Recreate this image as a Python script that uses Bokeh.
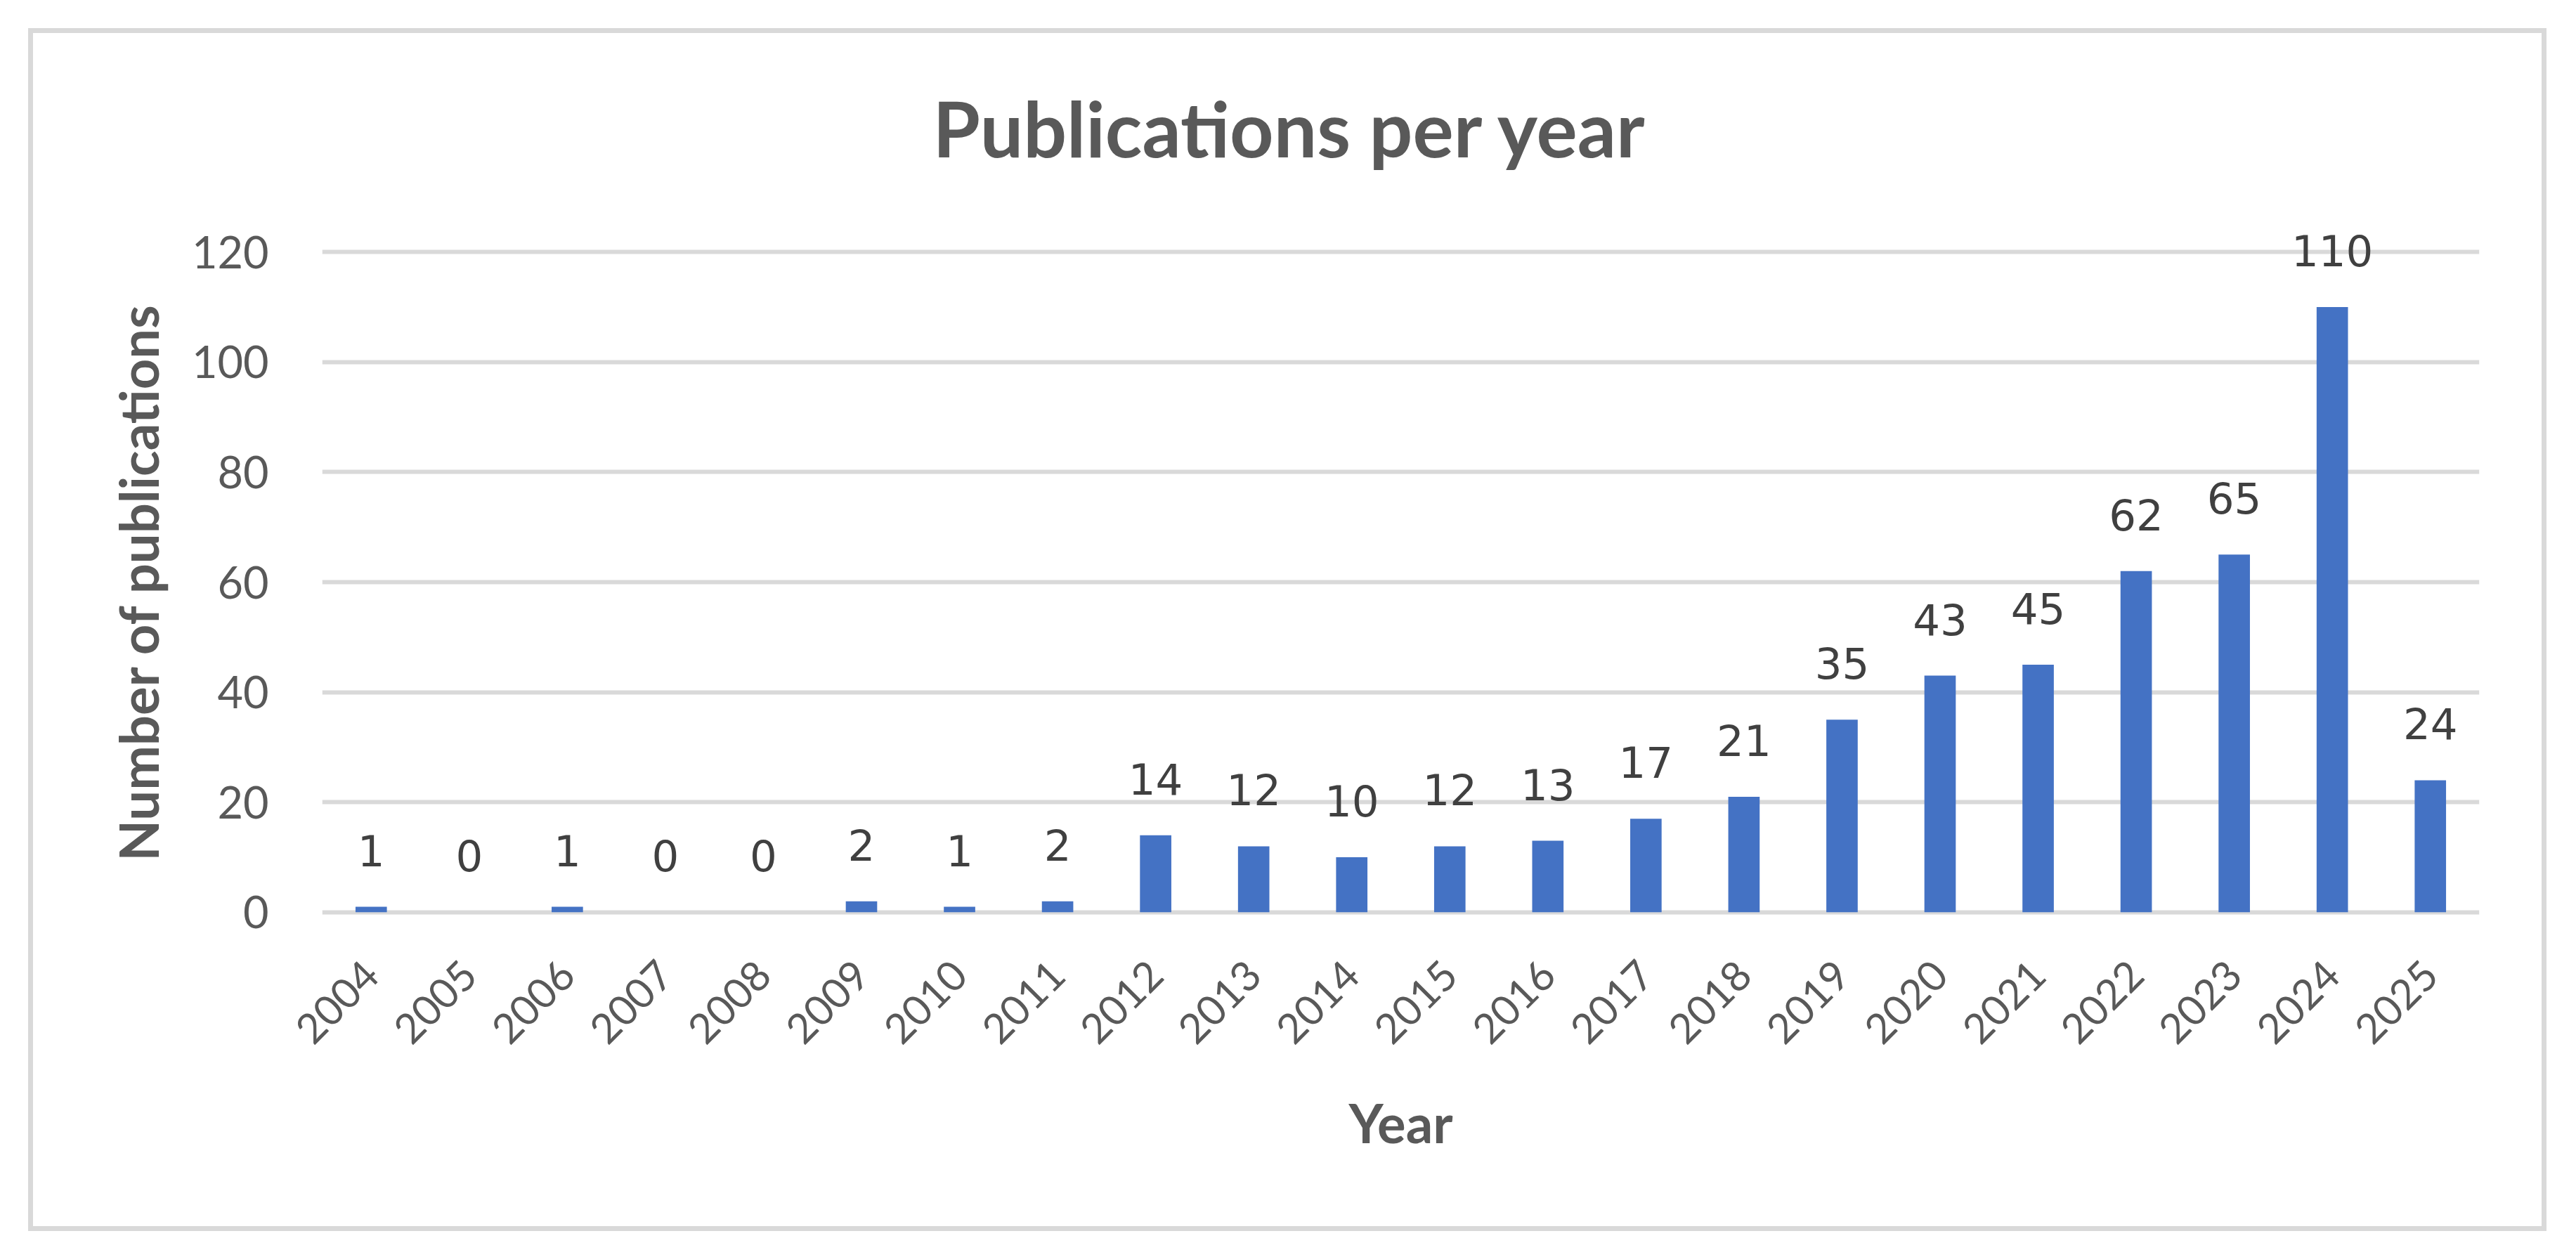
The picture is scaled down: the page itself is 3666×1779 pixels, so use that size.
from math import pi
from bokeh.plotting import figure
from bokeh.models import ColumnDataSource, FactorRange, Range1d, FixedTicker, LabelSet
from bokeh.embed import file_html
from bokeh.resources import INLINE
from bokeh.core.properties import value

# ---- data ----
years = ["2004", "2005", "2006", "2007", "2008", "2009", "2010", "2011", "2012", "2013", "2014",
         "2015", "2016", "2017", "2018", "2019", "2020", "2021", "2022", "2023", "2024", "2025"]
counts = [1, 0, 1, 0, 0, 2, 1, 2, 14, 12, 10, 12, 13, 17, 21, 35, 43, 45, 62, 65, 110, 24]
y_ticks = [0, 20, 40, 60, 80, 100, 120]
chart_title = "Publications per year"
x_title = "Year"
y_title = "Number of publications"

# ---- layout constants ----
W, H = 3584, 1712
LEFT, RIGHT, TOP, BOTTOM = 418, 96, 273, 415
Y0, Y1 = -5, 125
GRID = "#d9d9d9"
TXT = "#595959"
BAR = "#4472C4"

src = ColumnDataSource(dict(year=years, count=counts, label=[str(c) for c in counts]))

p = figure(x_range=FactorRange(factors=years), y_range=Range1d(Y0, Y1),
           width=W, height=H, output_backend="svg", toolbar_location=None,
           min_border_left=LEFT, min_border_right=RIGHT,
           min_border_top=TOP, min_border_bottom=BOTTOM,
           margin=(40, 0, 0, 40),
           styles={"background-color": "white",
                   "box-shadow": "inset 0 0 0 7px #d9d9d9"},
           background_fill_color=None, border_fill_color=None)
p.outline_line_color = None

p.vbar(x="year", top="count", width=0.32, bottom=0, source=src,
       fill_color=BAR, line_color=None)

# grid
p.xgrid.grid_line_color = None
p.ygrid.grid_line_color = GRID
p.ygrid.grid_line_width = 6
p.ygrid.ticker = FixedTicker(ticks=y_ticks)

# y axis
p.yaxis.ticker = FixedTicker(ticks=y_ticks)
p.yaxis.axis_line_color = None
p.yaxis.major_tick_line_color = None
p.yaxis.minor_tick_line_color = None
p.yaxis.major_label_text_font = "Lato"
p.yaxis.major_label_text_font_size = "63px"
p.yaxis.major_label_text_color = TXT
p.yaxis.major_label_standoff = 70
p.yaxis.axis_label = y_title
p.yaxis.axis_label_text_font = "Lato"
p.yaxis.axis_label_text_font_style = "bold"
p.yaxis.axis_label_text_font_size = "76px"
p.yaxis.axis_label_text_color = TXT
p.yaxis.axis_label_standoff = 28

# x axis
p.xaxis.axis_line_color = None
p.xaxis.major_tick_line_color = None
p.xaxis.minor_tick_line_color = None
p.xaxis.major_label_orientation = pi / 4
p.xaxis.major_label_text_font = "Lato"
p.xaxis.major_label_text_font_size = "59px"
p.xaxis.major_label_text_color = TXT
p.xaxis.major_label_standoff = 34
p.xaxis.axis_label = x_title
p.xaxis.axis_label_text_font = "Lato"
p.xaxis.axis_label_text_font_style = "bold"
p.xaxis.axis_label_text_font_size = "76px"
p.xaxis.axis_label_text_color = TXT
p.xaxis.axis_label_standoff = 45

# data labels
labels = LabelSet(x="year", y="count", text="label", source=src,
                  y_offset=58, text_align="center", text_baseline="alphabetic",
                  text_font=value("DejaVu Sans"), text_font_size="61px",
                  text_color="#404040")
p.add_layout(labels)

# chart title
p.title.text = chart_title
p.title.align = "left"
p.title.offset = 869
p.title.vertical_align = "bottom"
p.title.standoff = 146
p.title.text_font = "Lato"
p.title.text_font_style = "bold"
p.title.text_font_size = "109px"
p.title.text_color = TXT

open("out.html", "w").write(file_html(p, INLINE))
